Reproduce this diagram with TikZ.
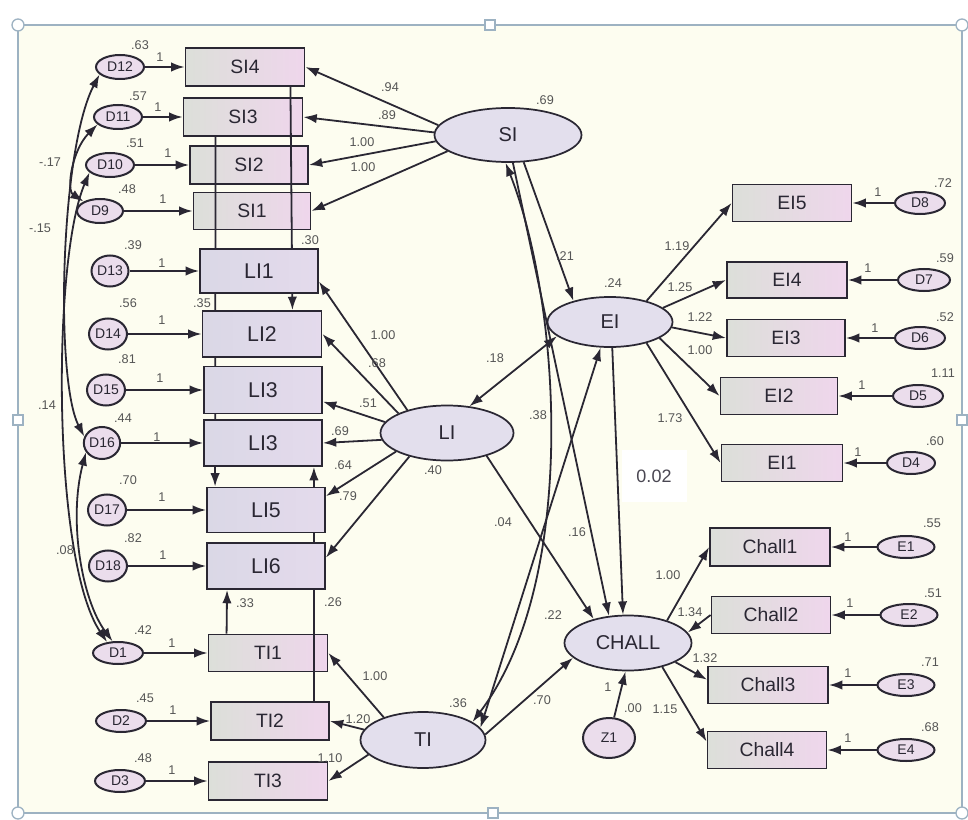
\documentclass[tikz,border=0pt]{standalone}
\usepackage{fontspec}
\setmainfont{Liberation Sans}
\usetikzlibrary{shapes.geometric,arrows.meta,calc}
\pgfdeclarelayer{bg}
\pgfdeclarelayer{lowbox}
\pgfdeclarelayer{mid}
\pgfsetlayers{bg,lowbox,mid,main}
\definecolor{cream}{HTML}{FDFDF0}
\definecolor{framec}{HTML}{9DB2C2}
\definecolor{boxl}{HTML}{DCDFD9}
\definecolor{boxr}{HTML}{EFD6EC}
\definecolor{lil}{HTML}{DAD8E6}
\definecolor{lir}{HTML}{E4DAEC}
\definecolor{latfill}{HTML}{E3DFED}
\definecolor{errfill}{HTML}{EBDDEC}
\definecolor{ink}{HTML}{2A2733}
\definecolor{lbl}{HTML}{555555}
\tikzset{
 box/.style 2 args={rectangle, draw=ink, line width=1.4pt, minimum width=#1*0.75pt, minimum height=#2*0.75pt, inner sep=0pt, left color=boxl, right color=boxr, text=ink, font=\fontsize{14.5}{16}\selectfont},
 libox/.style 2 args={box={#1}{#2}, left color=lil, right color=lir, font=\fontsize{16}{18}\selectfont},
 lat/.style 2 args={ellipse, draw=ink, line width=1.3pt, fill=latfill, minimum width=#1*0.75pt, minimum height=#2*0.75pt, inner sep=0pt, text=ink, font=\fontsize{15}{17}\selectfont},
 err/.style 2 args={lat={#1}{#2}, line width=1.5pt, fill=errfill, font=\fontsize{10.5}{12}\selectfont},
 arr/.style={draw=ink, line width=1.35pt, -{Latex[length=10pt,width=7pt]}},
 darr/.style={draw=ink, line width=1.35pt, {Latex[length=10pt,width=7pt]}-{Latex[length=10pt,width=7pt]}},
 lab/.style={inner sep=0pt, text=lbl, font=\fontsize{9.5}{10}\selectfont},
 handle/.style={draw=framec, line width=1pt, fill=white},
}
\begin{document}
\begin{tikzpicture}[x=0.75pt,y=-0.75pt]
\useasboundingbox (0,0) rectangle (968,820);
% ---------- frame ----------
\begin{pgfonlayer}{bg}
\fill[white] (0,0) rectangle (968,820);
\fill[cream] (18,25) rectangle (962,813);
\draw[framec, line width=1.3pt] (18,25) rectangle (962,813);
\foreach \hx/\hy in {18/25, 962/25, 18/813, 962/813}
  \draw[handle] (\hx,\hy) circle[radius=6];
\foreach \hx/\hy in {490/25, 18/420, 962/420, 493/813}
  \draw[handle] (\hx-5,\hy-5) rectangle (\hx+5,\hy+5);
\end{pgfonlayer}

% ---------- left indicator boxes (SI and TI lie under the covariance lines) ----------
\begin{pgfonlayer}{lowbox}
\node[box={119}{38}] (SI4) at (245,67) {SI4};
\node[box={119}{38}] (SI3) at (243,117) {SI3};
\node[box={118}{38}] (SI2) at (249,165) {SI2};
\node[box={117}{37}] (SI1) at (252,211) {SI1};
\node[box={119}{37}] (TI1) at (268,653) {TI1};
\node[box={118}{38}] (TI2) at (270,721) {TI2};
\node[box={119}{38}] (TI3) at (268,781) {TI3};
\end{pgfonlayer}
\node[libox={118}{44}] (LI1) at (259,271) {LI1};
\node[libox={119}{46}] (LI2) at (262,334) {LI2};
\node[libox={118}{47}] (LI3) at (263,390) {LI3};
\node[libox={118}{46}] (LI3b) at (263,443) {LI3};
\node[libox={118}{45}] (LI5) at (266,510) {LI5};
\node[libox={118}{46}] (LI6) at (266,566) {LI6};

% ---------- left error terms ----------
\node[err={48}{24}] (D12) at (120,67) {D12};
\node[err={48}{24}] (D11) at (118,117) {D11};
\node[err={48}{24}] (D10) at (110,165) {D10};
\node[err={46}{24}] (D9) at (100,211) {D9};
\node[err={37}{31}] (D13) at (110,271) {D13};
\node[err={38}{31}] (D14) at (108,334) {D14};
\node[err={38}{31}] (D15) at (106,390) {D15};
\node[err={36}{32}] (D16) at (102,443) {D16};
\node[err={38}{31}] (D17) at (107,510) {D17};
\node[err={38}{31}] (D18) at (108,566) {D18};
\node[err={50}{22}] (D1) at (118,653) {D1};
\node[err={50}{22}] (D2) at (121,721) {D2};
\node[err={50}{22}] (D3) at (120,781) {D3};

% ---------- latent variables ----------
\node[lat={147}{54}] (SI) at (508,135) {SI};
\node[lat={125}{50}] (EI) at (610,322) {EI};
\node[lat={133}{55}] (LI) at (447,433) {LI};
\node[lat={125}{56}] (TI) at (423,740) {TI};
\node[lat={127}{55}] (CHALL) at (628,643) {CHALL};
\node[err={52}{40}] (Z1) at (609,738) {Z1};

% ---------- right indicator boxes ----------
\node[box={119}{37}] (EI5) at (792,203) {EI5};
\node[box={120}{36}] (EI4) at (787,280) {EI4};
\node[box={118}{37}] (EI3) at (786,338) {EI3};
\node[box={117}{37}] (EI2) at (779,396) {EI2};
\node[box={121}{37}] (EI1) at (782,463) {EI1};
\node[box={120}{38}] (Chall1) at (770,547) {Chall1};
\node[box={119}{37}] (Chall2) at (771,615) {Chall2};
\node[box={120}{37}] (Chall3) at (768,685) {Chall3};
\node[box={119}{37}] (Chall4) at (767,750) {Chall4};

\node[err={50}{22}] (D8) at (920,203) {D8};
\node[err={52}{22}] (D7) at (924,280) {D7};
\node[err={50}{22}] (D6) at (920,338) {D6};
\node[err={50}{22}] (D5) at (918,396) {D5};
\node[err={48}{22}] (D4) at (911,463) {D4};
\node[err={57}{22}] (E1) at (906,547) {E1};
\node[err={57}{22}] (E2) at (909,615) {E2};
\node[err={57}{22}] (E3) at (906,685) {E3};
\node[err={57}{22}] (E4) at (906,750) {E4};

% ---------- covariance lines: over SI/TI boxes, under LI boxes ----------
\begin{pgfonlayer}{mid}
\draw[arr] ($(SI3.south west)+(33,0)$) -- ($(LI5.north west)+(9,0)$);
\draw[arr] ($(SI4.south east)+(-15,0)$) -- ($(LI2.north east)+(-30,0)$);
\draw[arr] ($(TI2.north east)+(-16,0)$) -- ($(LI3b.south east)+(-9,0)$);
\draw[arr] ($(TI1.north west)+(19,0)$) -- ($(LI6.south west)+(21,0)$);
\end{pgfonlayer}

% ---------- error -> indicator ----------
\foreach \e/\b in {D12/SI4, D11/SI3, D10/SI2, D9/SI1, D13/LI1, D14/LI2, D15/LI3, D16/LI3b, D17/LI5, D18/LI6, D1/TI1, D2/TI2, D3/TI3}
  \draw[arr] (\e) -- (\b.west);
\foreach \e/\b in {D8/EI5, D7/EI4, D6/EI3, D5/EI2, D4/EI1, E1/Chall1, E2/Chall2, E3/Chall3, E4/Chall4}
  \draw[arr] (\e) -- (\b.east);

% ---------- loadings ----------
\draw[arr] (SI.172) -- (SI4.east);
\draw[arr] (SI.178) -- (SI3.east);
\draw[arr] (SI.185) -- (SI2.east);
\draw[arr] (SI.195) -- (SI1.east);
\draw[arr] (LI.150) -- (LI1.-10);
\draw[arr] (LI.158) -- (LI2.east);
\draw[arr] (LI.170) -- (LI3.-11);
\draw[arr] (LI.186) -- (LI3b.east);
\draw[arr] (LI.200) -- (LI5.13);
\draw[arr] (LI.212) -- (LI6.8);
\draw[arr] (TI.150) -- (TI1.east);
\draw[arr] (TI.170) -- (TI2.east);
\draw[arr] (TI.195) -- (TI3.east);
\draw[arr] (EI.30) -- (EI5.west);
\draw[arr] (EI.15) -- (EI4.west);
\draw[arr] (EI.-5) -- (EI3.west);
\draw[arr] (EI.-18) -- (EI2.west);
\draw[arr] (EI.-30) -- (EI1.west);
\draw[arr] (CHALL.30) -- (Chall1.west);
\draw[arr] (Chall2.west) -- (CHALL.10);
\draw[arr] (CHALL.-22) -- (Chall3.175);
\draw[arr] (CHALL.-35) -- (Chall4.172);
\draw[arr] (Z1) -- (CHALL.-95);

% ---------- structural paths ----------
\draw[arr] (SI.-60) -- (EI.150);
\draw[arr] (SI.-80) -- (CHALL.125);
\draw[arr] (EI.-85) -- (CHALL.100);
\draw[darr] (LI.50) -- (EI.-165);
\draw[arr] (LI.-30) -- (CHALL.145);
\draw[darr] (TI.12) -- (EI.-110);
\draw[arr] (TI.5) -- (CHALL.-165);
\draw[darr] (SI.-95) .. controls (560,300) and (580,580) .. (TI.20);

% ---------- error covariances (left) ----------
\draw[darr] (D12.200) .. controls (60,150) and (55,380) .. (D16.160);
\draw[darr] (D11.200) .. controls (72,150) and (66,190) .. (D9.150);
\draw[darr] (D10.200) .. controls (52,260) and (52,560) .. (D1.135);
\draw[darr] (D16.210) .. controls (68,520) and (82,600) .. (D1.115);

% ---------- white label box ----------
\node[fill=white, minimum width=65*0.75pt, minimum height=52*0.75pt, inner sep=0pt, text=ink!85, font=\fontsize{13.5}{15}\selectfont] (w02) at (654,476) {0.02};

% ---------- labels: left variances ----------
\node[lab] (v1) at (140,45) {.63};
\node[lab] (v2) at (138,96) {.57};
\node[lab] (v3) at (135,143) {.51};
\node[lab] (v4) at (127,189) {.48};
\node[lab] (v5) at (133,245) {.39};
\node[lab] (v6) at (128,303) {.56};
\node[lab] (v7) at (127,359) {.81};
\node[lab] (v8) at (123,418) {.44};
\node[lab] (v9) at (128,480) {.70};
\node[lab] (v10) at (133,538) {.82};
\node[lab] (v11) at (143,630) {.42};
\node[lab] (v12) at (145,698) {.45};
\node[lab] (v13) at (143,758) {.48};
% ones, left
\node[lab] (o1) at (160,57) {1};
\node[lab] (o2) at (158,107) {1};
\node[lab] (o3) at (168,153) {1};
\node[lab] (o4) at (163,199) {1};
\node[lab] (o5) at (162,263) {1};
\node[lab] (o6) at (162,320) {1};
\node[lab] (o7) at (160,378) {1};
\node[lab] (o8) at (157,437) {1};
\node[lab] (o9) at (162,497) {1};
\node[lab] (o10) at (163,555) {1};
\node[lab] (o11) at (172,643) {1};
\node[lab] (o12) at (173,710) {1};
\node[lab] (o13) at (172,770) {1};
% right variances and ones
\node[lab] (v14) at (943,183) {.72};
\node[lab] (v15) at (945,258) {.59};
\node[lab] (v16) at (945,317) {.52};
\node[lab] (v17) at (943,373) {1.11};
\node[lab] (v18) at (935,441) {.60};
\node[lab] (v19) at (932,523) {.55};
\node[lab] (v20) at (933,593) {.51};
\node[lab] (v21) at (930,662) {.71};
\node[lab] (v22) at (930,727) {.68};
\node[lab] (o14) at (878,192) {1};
\node[lab] (o15) at (868,268) {1};
\node[lab] (o16) at (875,328) {1};
\node[lab] (o17) at (862,385) {1};
\node[lab] (o18) at (858,452) {1};
\node[lab] (o19) at (848,537) {1};
\node[lab] (o20) at (850,603) {1};
\node[lab] (o21) at (848,673) {1};
\node[lab] (o22) at (848,738) {1};
% latent variances
\node[lab] (v23) at (545,100) {.69};
\node[lab] (v24) at (613,283) {.24};
\node[lab] (v25) at (433,470) {.40};
\node[lab] (v26) at (458,703) {.36};
\node[lab] (v27) at (633,708) {.00};
\node[lab] (o23) at (608,687) {1};
% loadings
\node[lab] (a1) at (390,87) {.94};
\node[lab] (a2) at (387,115) {.89};
\node[lab] (a3) at (362,142) {1.00};
\node[lab] (a4) at (363,167) {1.00};
\node[lab] (a5) at (383,335) {1.00};
\node[lab] (a6) at (377,363) {.68};
\node[lab] (a7) at (368,403) {.51};
\node[lab] (a8) at (340,431) {.69};
\node[lab] (a9) at (343,465) {.64};
\node[lab] (a10) at (348,496) {.79};
\node[lab] (a11) at (375,676) {1.00};
\node[lab] (a12) at (358,719) {1.20};
\node[lab] (a13) at (330,758) {1.10};
\node[lab] (a14) at (677,246) {1.19};
\node[lab] (a15) at (680,287) {1.25};
\node[lab] (a16) at (700,317) {1.22};
\node[lab] (a17) at (700,350) {1.00};
\node[lab] (a18) at (670,418) {1.73};
\node[lab] (a19) at (668,575) {1.00};
\node[lab] (a20) at (690,612) {1.34};
\node[lab] (a21) at (705,658) {1.32};
\node[lab] (a22) at (665,709) {1.15};
% structural
\node[lab] (s1) at (565,256) {.21};
\node[lab] (s2) at (495,358) {.18};
\node[lab] (s3) at (538,415) {.38};
\node[lab] (s4) at (503,522) {.04};
\node[lab] (s5) at (577,532) {.16};
\node[lab] (s6) at (553,615) {.22};
\node[lab] (s7) at (542,700) {.70};
% covariances
\node[lab] (c1) at (50,162) {-.17};
\node[lab] (c2) at (40,228) {-.15};
\node[lab] (c3) at (47,405) {.14};
\node[lab] (c4) at (65,550) {.08};
\node[lab] (c5) at (310,240) {.30};
\node[lab] (c6) at (202,303) {.35};
\node[lab] (c7) at (245,603) {.33};
\node[lab] (c8) at (333,602) {.26};
\end{tikzpicture}
\end{document}
